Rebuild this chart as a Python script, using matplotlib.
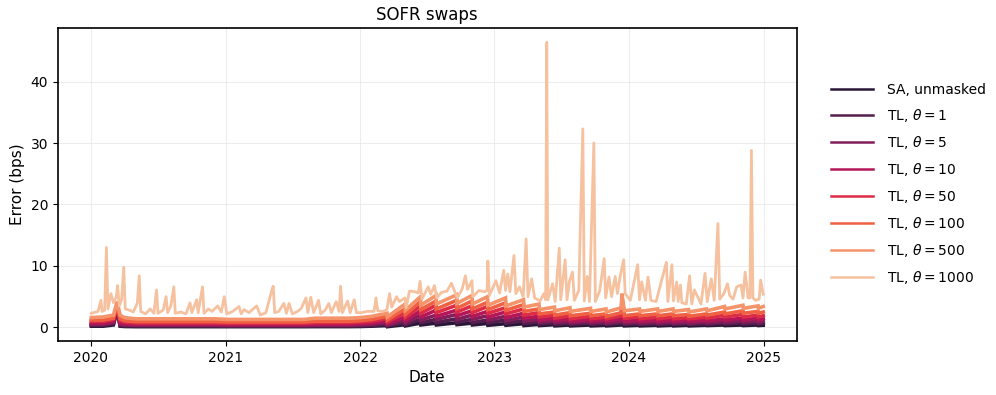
import matplotlib
matplotlib.use("Agg")
import matplotlib.pyplot as plt
import pandas as pd
import seaborn as sns

# ---------------- data ----------------
labels = ["SA, unmasked", r"TL, $\theta = 1$", r"TL, $\theta = 5$", r"TL, $\theta = 10$",
          r"TL, $\theta = 50$", r"TL, $\theta = 100$", r"TL, $\theta = 500$", r"TL, $\theta = 1000$"]

# shared knot dates for the lower series
knot_dates = [
    "2020-01-02", "2020-02-03", "2020-03-02", "2020-03-12", "2020-03-20", "2020-04-01", "2020-05-01",
    "2020-06-01", "2020-07-01", "2020-08-03", "2020-09-01", "2020-10-01", "2020-11-02", "2020-12-01",
    "2021-01-04", "2021-02-01", "2021-03-01", "2021-04-01", "2021-05-03", "2021-06-01", "2021-07-01",
    "2021-08-02", "2021-09-01", "2021-10-01", "2021-11-01", "2021-12-01",
    "2022-01-03", "2022-02-01", "2022-03-15", "2022-03-16", "2022-05-03", "2022-05-04", "2022-06-14",
    "2022-06-15", "2022-07-26", "2022-07-27", "2022-09-20", "2022-09-21", "2022-11-01", "2022-11-02",
    "2022-12-13", "2022-12-14",
    "2023-01-31", "2023-02-01", "2023-03-21", "2023-03-22", "2023-05-02", "2023-05-03", "2023-06-13",
    "2023-06-14", "2023-07-25", "2023-07-26", "2023-09-19", "2023-09-20", "2023-10-31", "2023-11-01",
    "2023-12-12", "2023-12-13", "2023-12-20",
    "2024-01-30", "2024-01-31", "2024-03-19", "2024-03-20", "2024-04-30", "2024-05-01", "2024-06-11",
    "2024-06-12", "2024-07-30", "2024-07-31", "2024-09-17", "2024-09-18", "2024-11-06", "2024-11-07",
    "2024-12-17", "2024-12-18", "2024-12-31",
]

sa_unmasked = [0.2, 0.2, 0.4, 2.8, 0.2, 0.15, 0.12, 0.12, 0.12, 0.12, 0.12, 0.12, 0.12, 0.12,
               0.12, 0.12, 0.12, 0.12, 0.12, 0.12, 0.12, 0.12, 0.13, 0.13, 0.13, 0.13,
               0.15, 0.2, 0.3, 0.12, 0.45, 0.25, 0.7, 0.4, 0.7, 0.4, 0.75, 0.45, 0.7, 0.4, 0.65, 0.35,
               0.6, 0.35, 0.6, 0.3, 0.5, 0.3, 0.45, 0.25, 0.4, 0.25, 0.4, 0.25, 0.35, 0.25, 0.4, 3.0, 0.25,
               0.35, 0.25, 0.35, 0.25, 0.35, 0.25, 0.35, 0.25, 0.35, 0.3, 0.4, 0.3, 0.4, 0.3, 0.4, 0.3, 0.35]
tl_1 = [0.35, 0.35, 0.6, 3.1, 0.3, 0.25, 0.22, 0.22, 0.22, 0.22, 0.22, 0.22, 0.22, 0.22,
        0.2, 0.2, 0.2, 0.2, 0.2, 0.2, 0.2, 0.2, 0.22, 0.22, 0.22, 0.22,
        0.25, 0.3, 0.5, 0.25, 0.8, 0.45, 1.3, 0.75, 1.3, 0.8, 1.4, 0.85, 1.3, 0.8, 1.2, 0.75,
        1.2, 0.7, 1.1, 0.65, 0.9, 0.55, 0.8, 0.5, 0.7, 0.5, 0.7, 0.5, 0.65, 0.5, 0.7, 3.4, 0.5,
        0.6, 0.5, 0.6, 0.5, 0.6, 0.5, 0.6, 0.5, 0.6, 0.5, 0.7, 0.55, 0.75, 0.55, 0.7, 0.55, 0.7]
tl_5 = [0.5, 0.5, 0.8, 3.3, 0.5, 0.4, 0.35, 0.35, 0.35, 0.35, 0.35, 0.35, 0.35, 0.35,
        0.32, 0.32, 0.32, 0.32, 0.32, 0.32, 0.32, 0.32, 0.35, 0.35, 0.35, 0.35,
        0.4, 0.5, 0.8, 0.4, 1.2, 0.75, 2.0, 1.2, 2.0, 1.3, 2.1, 1.3, 2.0, 1.3, 1.9, 1.2,
        1.8, 1.1, 1.7, 1.0, 1.3, 0.85, 1.1, 0.8, 1.0, 0.75, 1.0, 0.75, 0.95, 0.7, 1.0, 3.8, 0.75,
        0.9, 0.7, 0.9, 0.7, 0.9, 0.7, 0.85, 0.7, 0.9, 0.75, 1.0, 0.8, 1.1, 0.85, 1.1, 0.85, 1.0]
tl_10 = [0.7, 0.7, 1.0, 3.4, 0.7, 0.6, 0.5, 0.5, 0.5, 0.5, 0.5, 0.5, 0.5, 0.5,
         0.45, 0.45, 0.45, 0.45, 0.45, 0.45, 0.45, 0.45, 0.5, 0.5, 0.5, 0.5,
         0.6, 0.7, 1.1, 0.6, 1.7, 1.1, 2.7, 1.7, 2.8, 1.8, 2.8, 1.9, 2.7, 1.8, 2.6, 1.7,
         2.5, 1.6, 2.3, 1.5, 1.8, 1.2, 1.5, 1.1, 1.4, 1.0, 1.3, 1.0, 1.3, 1.0, 1.4, 4.2, 1.0,
         1.2, 1.0, 1.2, 1.0, 1.2, 1.0, 1.2, 1.0, 1.2, 1.05, 1.4, 1.2, 1.5, 1.2, 1.5, 1.2, 1.4]
tl_50 = [1.0, 1.0, 1.3, 3.6, 1.1, 0.9, 0.75, 0.75, 0.75, 0.75, 0.75, 0.75, 0.75, 0.75,
         0.7, 0.7, 0.7, 0.7, 0.7, 0.7, 0.7, 0.7, 0.8, 0.8, 0.8, 0.8,
         0.9, 1.0, 1.5, 0.9, 2.4, 1.6, 3.5, 2.3, 3.6, 2.4, 3.6, 2.5, 3.5, 2.4, 3.4, 2.3,
         3.2, 2.2, 3.0, 2.0, 2.4, 1.7, 2.0, 1.5, 1.9, 1.4, 1.8, 1.4, 1.7, 1.4, 1.9, 4.6, 1.5,
         1.7, 1.4, 1.7, 1.4, 1.7, 1.4, 1.6, 1.4, 1.7, 1.5, 2.0, 1.7, 2.1, 1.7, 2.0, 1.7, 1.9]
tl_100 = [1.2, 1.2, 1.5, 3.8, 1.4, 1.1, 0.95, 0.95, 0.95, 0.95, 0.95, 0.95, 0.95, 0.95,
          0.9, 0.9, 0.9, 0.9, 0.9, 0.9, 0.9, 0.9, 1.0, 1.0, 1.0, 1.0,
          1.1, 1.3, 1.8, 1.2, 3.0, 2.1, 4.2, 2.9, 4.3, 3.0, 4.4, 3.1, 4.3, 3.0, 4.1, 2.9,
          4.0, 2.8, 3.7, 2.6, 3.0, 2.2, 2.5, 2.0, 2.4, 1.9, 2.3, 1.9, 2.2, 1.8, 2.4, 5.0, 1.9,
          2.2, 1.9, 2.2, 1.9, 2.2, 1.9, 2.1, 1.8, 2.2, 2.0, 2.5, 2.2, 2.7, 2.3, 2.6, 2.3, 2.5]
tl_500 = [1.6, 1.7, 2.0, 4.2, 2.0, 1.6, 1.4, 1.4, 1.4, 1.4, 1.4, 1.4, 1.4, 1.4,
          1.3, 1.3, 1.3, 1.3, 1.3, 1.3, 1.3, 1.3, 1.5, 1.5, 1.5, 1.5,
          1.6, 1.8, 2.3, 1.7, 3.8, 2.8, 5.0, 3.6, 5.2, 3.8, 5.3, 3.9, 5.2, 3.8, 5.0, 3.6,
          4.8, 3.5, 4.5, 3.3, 3.8, 2.9, 3.3, 2.7, 3.2, 2.6, 3.1, 2.6, 3.0, 2.5, 3.2, 5.5, 2.7,
          3.0, 2.6, 3.0, 2.6, 3.0, 2.6, 2.9, 2.5, 3.0, 2.7, 3.4, 3.0, 3.6, 3.1, 3.5, 3.1, 3.4]

# theta = 1000 has its own, denser date list (spikes)
tl_1000_dates = [
    "2020-01-02", "2020-01-20", "2020-01-28", "2020-01-31", "2020-02-07", "2020-02-12", "2020-02-16",
    "2020-02-24", "2020-03-02", "2020-03-10", "2020-03-13", "2020-03-18", "2020-03-24", "2020-03-30",
    "2020-04-03", "2020-04-15", "2020-04-25", "2020-05-06", "2020-05-11", "2020-05-15", "2020-05-28",
    "2020-06-10", "2020-06-20", "2020-06-27", "2020-07-01", "2020-07-15", "2020-07-23", "2020-07-27",
    "2020-08-05", "2020-08-13", "2020-08-17", "2020-09-01", "2020-09-15", "2020-09-26", "2020-10-01",
    "2020-10-14", "2020-10-18", "2020-10-30", "2020-11-03", "2020-11-15", "2020-11-25", "2020-12-10",
    "2020-12-20", "2020-12-28",
    "2021-01-04", "2021-01-20", "2021-02-06", "2021-02-12", "2021-02-20", "2021-03-05", "2021-03-26",
    "2021-04-05", "2021-04-20", "2021-05-06", "2021-05-10", "2021-05-14", "2021-05-25", "2021-06-08",
    "2021-06-15", "2021-06-22", "2021-07-01", "2021-07-15", "2021-07-25", "2021-08-07", "2021-08-12",
    "2021-08-20", "2021-08-28", "2021-09-10", "2021-09-16", "2021-09-28", "2021-10-08", "2021-10-15",
    "2021-10-28", "2021-11-05", "2021-11-09", "2021-11-14", "2021-11-28", "2021-12-05", "2021-12-16",
    "2021-12-22",
    "2022-01-05", "2022-01-20", "2022-02-08", "2022-02-13", "2022-02-18", "2022-03-04", "2022-03-15",
    "2022-03-22", "2022-03-28", "2022-04-10", "2022-04-18", "2022-05-03", "2022-05-06", "2022-05-15",
    "2022-05-30", "2022-06-08", "2022-06-13", "2022-06-18", "2022-07-05", "2022-07-12", "2022-07-22",
    "2022-07-28", "2022-08-10", "2022-08-25", "2022-09-06", "2022-09-14", "2022-09-22", "2022-10-05",
    "2022-10-14", "2022-10-20", "2022-11-01", "2022-11-03", "2022-11-20", "2022-12-05", "2022-12-12",
    "2022-12-14", "2022-12-18",
    "2023-01-05", "2023-01-15", "2023-01-26", "2023-01-31", "2023-02-06", "2023-02-12", "2023-02-23",
    "2023-02-28", "2023-03-10", "2023-03-20", "2023-03-28", "2023-04-02", "2023-04-12", "2023-04-20",
    "2023-05-05", "2023-05-15", "2023-05-20", "2023-05-23", "2023-05-26", "2023-06-08", "2023-06-15",
    "2023-06-26", "2023-06-30", "2023-07-12", "2023-07-17", "2023-07-24", "2023-08-01", "2023-08-06",
    "2023-08-18", "2023-08-29", "2023-09-02", "2023-09-10", "2023-09-16", "2023-09-28", "2023-10-02",
    "2023-10-14", "2023-10-26", "2023-10-30", "2023-11-08", "2023-11-15", "2023-11-25", "2023-12-01",
    "2023-12-08", "2023-12-18", "2023-12-22",
    "2024-01-05", "2024-01-25", "2024-01-30", "2024-02-05", "2024-02-15", "2024-02-22", "2024-03-01",
    "2024-03-15", "2024-04-12", "2024-04-16", "2024-04-27", "2024-05-01", "2024-05-10", "2024-05-14",
    "2024-05-20", "2024-05-24", "2024-06-05", "2024-06-14", "2024-06-20", "2024-06-27", "2024-07-05",
    "2024-07-15", "2024-07-26", "2024-08-01", "2024-08-12", "2024-08-20", "2024-08-30", "2024-09-04",
    "2024-09-15", "2024-09-25", "2024-10-01", "2024-10-10", "2024-10-20", "2024-11-01", "2024-11-06",
    "2024-11-12", "2024-11-20", "2024-11-25", "2024-11-29", "2024-12-03", "2024-12-10", "2024-12-20",
    "2024-12-24", "2024-12-31",
]
tl_1000 = [
    2.3, 2.6, 4.4, 2.6, 2.8, 13.0, 3.0, 5.5, 4.0, 5.0, 6.8, 3.5, 4.5, 9.8,
    3.0, 2.8, 2.5, 4.0, 8.4, 2.6, 2.2, 3.0, 2.3, 6.1, 2.3, 2.8, 5.0, 2.4,
    3.5, 6.6, 2.3, 2.5, 2.2, 4.0, 2.4, 4.5, 2.4, 6.6, 2.3, 3.0, 2.6, 3.5,
    2.5, 5.0,
    2.2, 2.6, 3.4, 2.2, 2.9, 2.4, 3.5, 2.0, 2.4, 6.0, 6.7, 2.4, 2.6, 3.9,
    2.3, 3.9, 2.2, 2.6, 3.1, 4.8, 2.4, 4.9, 2.4, 4.4, 2.2, 2.8, 3.9, 2.4,
    4.2, 2.6, 6.7, 2.4, 4.3, 2.4, 4.5, 2.4,
    2.4, 2.6, 2.6, 4.8, 2.7, 2.6, 2.9, 5.5, 3.3, 5.0, 4.2, 4.8, 3.2, 5.9,
    5.8, 5.6, 7.5, 4.6, 6.6, 5.4, 6.8, 4.8, 5.7, 5.9, 7.2, 6.0, 4.8, 6.2,
    8.4, 6.2, 7.6, 5.0, 6.0, 5.8, 6.0, 10.8, 5.2,
    7.6, 5.6, 9.3, 6.0, 8.7, 5.8, 11.7, 5.5, 6.6, 5.0, 14.4, 5.0, 7.9, 4.8,
    4.3, 5.5, 4.5, 46.4, 4.5, 7.1, 4.2, 12.9, 4.5, 11.0, 4.5, 7.6, 9.0, 4.4,
    6.0, 32.3, 4.3, 8.3, 4.2, 30.0, 4.2, 6.0, 11.2, 4.8, 8.2, 5.0, 8.3, 5.5,
    8.2, 11.0, 5.5,
    4.4, 10.2, 4.5, 7.4, 4.4, 8.2, 4.4, 4.2, 10.6, 4.2, 10.2, 4.3, 7.4, 4.2,
    6.9, 4.0, 3.8, 8.4, 3.8, 6.1, 5.1, 3.8, 8.8, 4.2, 7.9, 4.4, 16.9, 4.6,
    5.5, 7.1, 5.2, 4.6, 6.6, 6.9, 4.8, 9.0, 4.8, 4.8, 28.8, 4.8, 4.4, 4.6,
    7.7, 5.4,
]

lower_series = [sa_unmasked, tl_1, tl_5, tl_10, tl_50, tl_100, tl_500]

# ---------------- plotting ----------------
colors = sns.color_palette("rocket", 8)

fig = plt.figure(figsize=(9.96, 3.95), dpi=100)
ax = fig.add_axes([0.058, 0.137, 0.742, 0.792])

kd = pd.to_datetime(knot_dates)
for vals, lab, col in zip(lower_series, labels[:7], colors[:7]):
    ax.plot(kd, vals, color=col, lw=2.6, label=lab, solid_joinstyle="miter")
ax.plot(pd.to_datetime(tl_1000_dates), tl_1000, color=colors[7], lw=2.0, label=labels[7])

ax.set_title("SOFR swaps", fontsize=12)
ax.set_xlabel("Date", fontsize=11)
ax.set_ylabel("Error (bps)", fontsize=11)
ax.tick_params(labelsize=10)
ax.grid(True, color="#e6e6e6", lw=0.8, alpha=0.7)
for s in ax.spines.values():
    s.set_color("black")
    s.set_linewidth(1.2)

leg = ax.legend(loc="center left", bbox_to_anchor=(1.03, 0.5), frameon=False, fontsize=10,
                handlelength=3.0, handletextpad=1.0, labelspacing=0.72)
for h in leg.get_lines():
    h.set_linewidth(1.8)

fig.savefig("out.png", dpi=100)
